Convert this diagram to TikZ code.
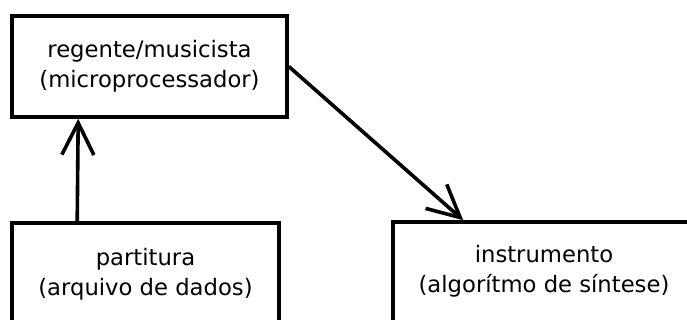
\documentclass[tikz,border=0pt]{standalone}
\usepackage{fontspec}
\setmainfont{DejaVu Sans}
\usetikzlibrary{arrows.meta,calc}
\tikzset{
  box/.style={draw=black, line width=3.6pt, fill=white, align=center, inner sep=0pt,
    font=\fontsize{22.7pt}{30pt}\selectfont},
  conn/.style={line width=3.6pt, -{Straight Barb[length=32pt,width=32pt,line width=3.6pt]}}
}
\begin{document}
\begin{tikzpicture}[x=1pt,y=-1pt]
\useasboundingbox (0,0) rectangle (687,320);
\clip (0,0) rectangle (687,320);
\node[box, minimum width=275pt, minimum height=101pt] (top) at (149.5,66.5) {regente/musicista\\(microprocessador)};
\node[box, minimum width=267pt, minimum height=122pt, text depth=25pt] (pl) at (145.5,284) {partitura\\(arquivo de dados)};
\node[box, minimum width=302pt, minimum height=118pt, text depth=25pt] (rb) at (544,281) {instrumento\\(algorítmo de síntese)};
\draw[conn] ($(pl.north west)+(67,0)$) -- ($(top.south west)+(68,0)$);
\draw[conn] (top.east) -- ($(rb.north west)+(72,0)$);
\end{tikzpicture}
\end{document}
